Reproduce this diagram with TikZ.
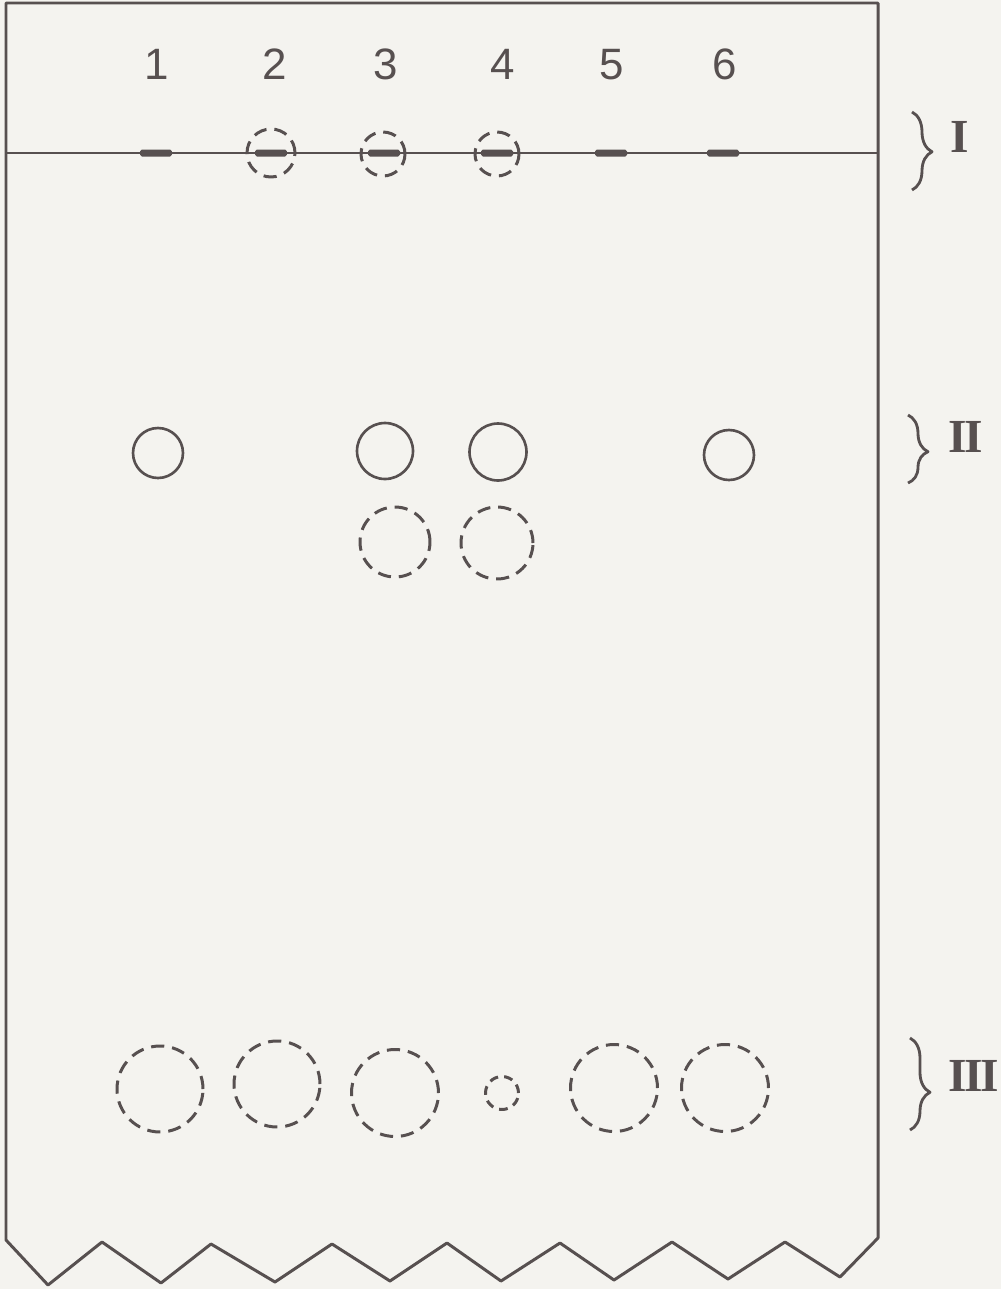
\documentclass[tikz,border=0pt]{standalone}
\usepackage{fontspec}
\setmainfont{Liberation Serif}
\newfontfamily\lanefont{Liberation Sans}
\usetikzlibrary{decorations.pathreplacing}
\definecolor{ink}{HTML}{575050}
\definecolor{paper}{HTML}{F4F3EF}
\begin{document}
\begin{tikzpicture}[x=0.02cm,y=-0.02cm,
  line join=round,
  frameline/.style={draw=ink,line width=1.7pt},
  spot/.style={circle,draw=ink,line width=1.5pt,inner sep=0pt},
  dspot/.style={circle,draw=ink,line width=1.7pt,inner sep=0pt,dash pattern=on 7.5pt off 4.5pt},
  originbar/.style={draw=none,fill=ink,rounded corners=1pt,minimum width=0.64cm,minimum height=0.14cm,inner sep=0pt},
  lanenum/.style={text=ink,font=\lanefont\fontsize{25}{25}\selectfont,anchor=base,inner sep=0pt},
  zone/.style={text=ink,font=\bfseries\fontsize{27}{27}\selectfont,anchor=base west,inner sep=0pt},
  zbrace/.style={draw=ink,line width=1.6pt,decorate}
]
\fill[paper] (0,0) rectangle (1001,1289);
\useasboundingbox (0,0) rectangle (1001,1289);

% paper outline with torn (zigzag) bottom
\draw[frameline] (6,3) -- (878,3) -- (878,1238) -- (840,1277) -- (785,1242) -- (728,1279)
  -- (672,1242) -- (614,1280) -- (560,1243) -- (501,1281) -- (447,1243) -- (390,1281)
  -- (332,1244) -- (275,1282) -- (211,1244) -- (161,1283) -- (102,1242) -- (48,1285)
  -- (6,1240) -- cycle;

% origin line
\coordinate (oL) at (6,153);
\coordinate (oR) at (878,153);
\draw[draw=ink,line width=1.5pt] (oL) -- (oR);

% lane numbers
\node[lanenum] (n1) at (157,79) {1};
\node[lanenum] (n2) at (275,79) {2};
\node[lanenum] (n3) at (386,79) {3};
\node[lanenum] (n4) at (503,79) {4};
\node[lanenum] (n5) at (612,79) {5};
\node[lanenum] (n6) at (725,79) {6};

% origin spots
\node[originbar] (o1) at (156,153) {};
\node[originbar] (o2) at (271,153) {};
\node[originbar] (o3) at (384,153) {};
\node[originbar] (o4) at (497,153) {};
\node[originbar] (o5) at (611,153) {};
\node[originbar] (o6) at (723,153) {};

% dashed rings around origin spots 2-4
\node[dspot,minimum size=0.96cm] (r2) at (271,153) {};
\node[dspot,minimum size=0.88cm] (r3) at (383,154) {};
\node[dspot,minimum size=0.88cm] (r4) at (497,154) {};

% zone II solid spots
\node[spot,minimum size=1.0cm] (s1) at (158,453) {};
\node[spot,minimum size=1.12cm] (s3) at (385,451) {};
\node[spot,minimum size=1.14cm] (s4) at (498,452) {};
\node[spot,minimum size=1.0cm] (s6) at (729,455) {};

% zone II dashed spots
\node[dspot,minimum size=1.40cm] (d3) at (395,542) {};
\node[dspot,minimum size=1.44cm] (d4) at (497,543) {};

% zone III dashed spots
\node[dspot,minimum size=1.72cm] (f1) at (160,1089) {};
\node[dspot,minimum size=1.72cm] (f2) at (277,1084) {};
\node[dspot,minimum size=1.74cm] (f3) at (395,1093) {};
\node[dspot,minimum size=0.66cm,dash pattern=on 5pt off 3.5pt] (f4) at (502,1093) {};
\node[dspot,minimum size=1.74cm] (f5) at (614,1088) {};
\node[dspot,minimum size=1.74cm] (f6) at (725,1088) {};

% zone braces and labels
\coordinate (b1t) at (912,112); \coordinate (b1b) at (912,190);
\coordinate (b2t) at (908,415); \coordinate (b2b) at (908,483);
\coordinate (b3t) at (910,1038); \coordinate (b3b) at (910,1130);
\draw[zbrace,decoration={brace,amplitude=0.4cm,aspect=0.51}] (b1t) -- (b1b);
\draw[zbrace,decoration={brace,amplitude=0.4cm,aspect=0.54}] (b2t) -- (b2b);
\draw[zbrace,decoration={brace,amplitude=0.4cm,aspect=0.59}] (b3t) -- (b3b);
\node[zone] (zI) at (950,152) {I};
\node[zone] (zII) at (948,452) {I\kern-1.5ptI};
\node[zone] (zIII) at (948,1091) {I\kern-1.5ptI\kern-1.5ptI};
\end{tikzpicture}
\end{document}
